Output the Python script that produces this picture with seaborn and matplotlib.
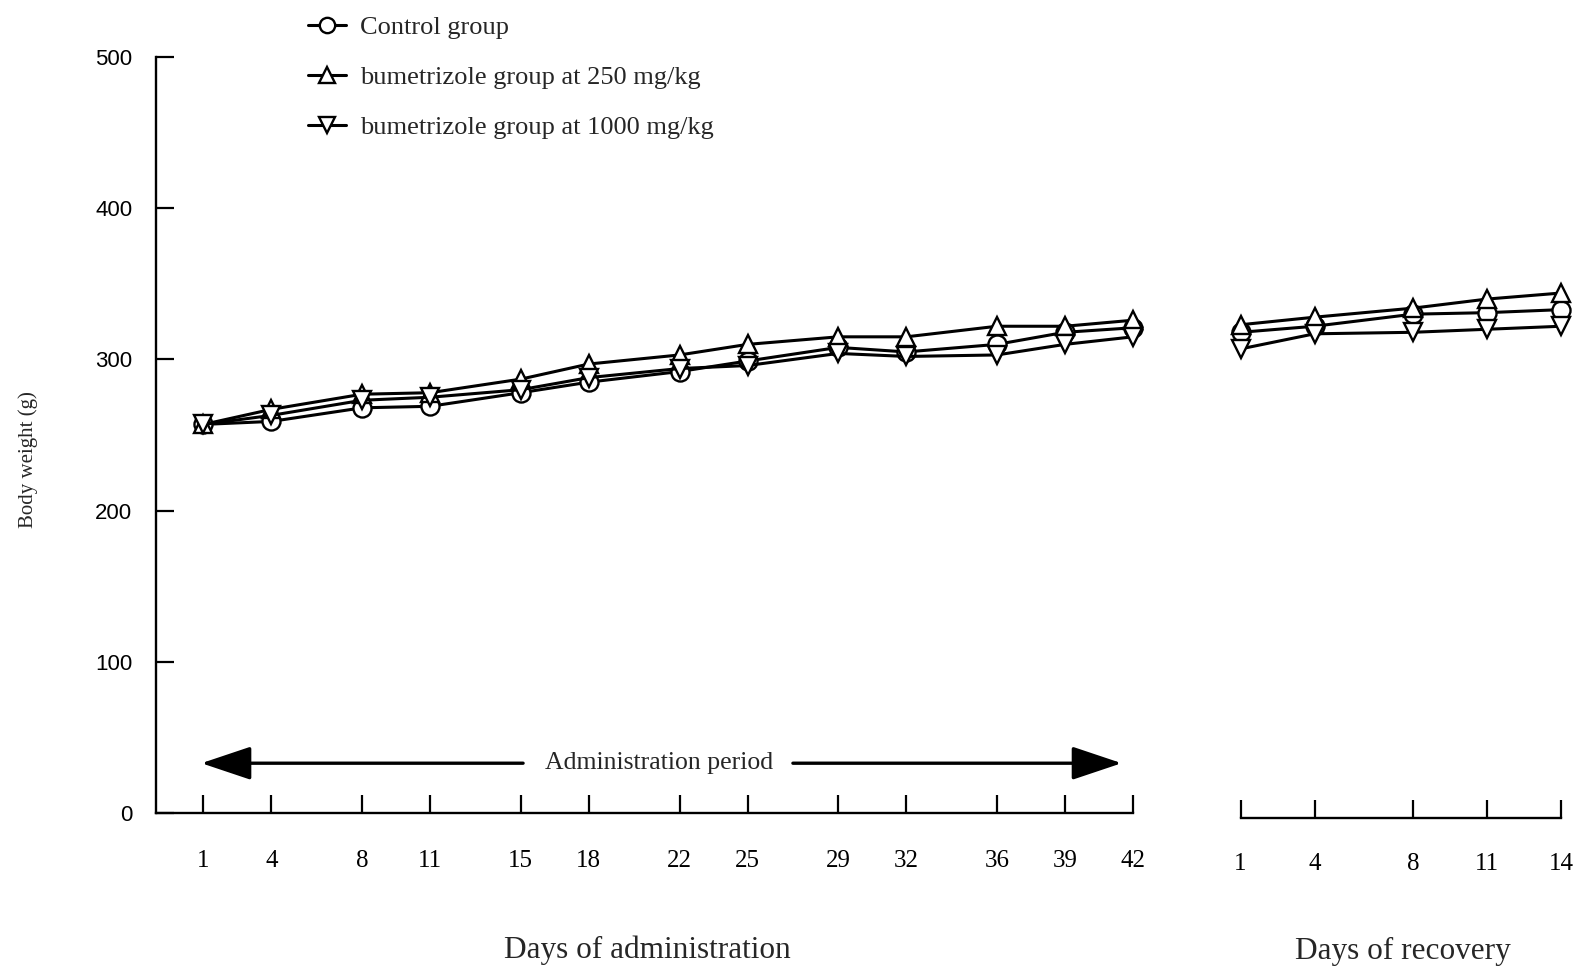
import pandas as pd
import matplotlib
matplotlib.use("Agg")
import matplotlib.pyplot as plt
import seaborn as sns

# ---------------------------
# Data
# ---------------------------

admin_days = [1, 4, 8, 11, 15, 18, 22, 25, 29, 32, 36, 39, 42]
recovery_days = [1, 4, 8, 11, 14]

groups = ["Control group",
          "bumetrizole group at 250 mg/kg",
          "bumetrizole group at 1000 mg/kg"]

control_admin = [257, 259, 268, 269, 278, 285, 292, 299, 308, 305, 310, 318, 321]
low_admin = [257, 267, 277, 278, 287, 297, 303, 310, 315, 315, 322, 322, 326]
high_admin = [257, 263, 273, 275, 280, 288, 294, 296, 304, 302, 303, 310, 315]

control_rec = [318, 322, 330, 331, 333]
low_rec = [323, 328, 334, 340, 344]
high_rec = [307, 317, 318, 320, 322]

y_ticks = [0, 100, 200, 300, 400, 500]

markers = {groups[0]: "o", groups[1]: "^", groups[2]: "v"}


def to_long(days, series):
    rows = []
    for name, vals in zip(groups, series):
        for d, v in zip(days, vals):
            rows.append({"day": d, "weight": v, "group": name})
    return pd.DataFrame(rows)


df_admin = to_long(admin_days, [control_admin, low_admin, high_admin])
df_rec = to_long(recovery_days, [control_rec, low_rec, high_rec])

# ---------------------------
# Figure
# ---------------------------

sns.set_theme(style="white")
plt.rcParams["font.family"] = ["Liberation Serif", "DejaVu Serif"]

W, H = 1579, 968
fig = plt.figure(figsize=(W / 100, H / 100), dpi=100)

bottom = 1 - 812.6 / H
height = (812.6 - 57.4) / H
ax1 = fig.add_axes([156 / W, bottom, (1133 - 156) / W, height])
ax2 = fig.add_axes([1240.6 / W, bottom, (1561 - 1240.6) / W, height])

line_kws = dict(color="black", linewidth=2.2, markersize=13,
                markerfacecolor="white", markeredgecolor="black",
                markeredgewidth=1.7, clip_on=False, dashes=False)

sns.lineplot(data=df_admin, x="day", y="weight", style="group",
             markers=markers, style_order=groups, ax=ax1, **line_kws)
sns.lineplot(data=df_rec, x="day", y="weight", style="group",
             markers=markers, style_order=groups, ax=ax2, legend=False,
             **line_kws)

# left panel axes
ax1.set_xlim(1 - 47.4 / 22.67, 42)
ax1.set_ylim(0, 500)
ax1.set_xticks(admin_days)
ax1.set_yticks(y_ticks)
ax1.set_xlabel("")
ax1.set_ylabel("")
for side in ["top", "right"]:
    ax1.spines[side].set_visible(False)
for side in ["left", "bottom"]:
    ax1.spines[side].set_linewidth(1.7)
    ax1.spines[side].set_color("black")
ax1.tick_params(axis="x", direction="in", length=13, width=1.6, pad=27,
                labelsize=18, colors="black", bottom=True)
ax1.tick_params(axis="y", direction="in", length=13, width=1.6, pad=17,
                labelsize=16, colors="black", left=True)
for lab in ax1.get_yticklabels():
    lab.set_family(["Liberation Sans", "DejaVu Sans"])

# right panel axes
ax2.set_xlim(1, 14)
ax2.set_ylim(0, 500)
ax2.set_xticks(recovery_days)
ax2.set_yticks([])
ax2.set_xlabel("")
ax2.set_ylabel("")
for side in ["top", "right", "left"]:
    ax2.spines[side].set_visible(False)
ax2.spines["bottom"].set_linewidth(1.7)
ax2.spines["bottom"].set_color("black")
ax2.spines["bottom"].set_position(("outward", 4))
ax2.tick_params(axis="x", direction="in", length=13, width=1.6, pad=25,
                labelsize=18, colors="black", bottom=True)

# administration period arrow
arrow_y = 32.7
ax1.text(21.1, arrow_y, "Administration period", ha="center", va="center",
         fontsize=18.5)
head = dict(arrowstyle="-|>,head_length=1.55,head_width=0.52",
            mutation_scale=20, lw=2.4, color="black", shrinkA=0, shrinkB=0)
ax1.annotate("", xy=(0.91, arrow_y), xytext=(15.1, arrow_y), arrowprops=head)
ax1.annotate("", xy=(41.5, arrow_y), xytext=(27.0, arrow_y), arrowprops=head)

# legend
handles, labels = ax1.get_legend_handles_labels()
ax1.legend(handles, labels, loc="upper left",
           bbox_to_anchor=(297 / W, 1 - 5 / H),
           bbox_transform=fig.transFigure, frameon=False, fontsize=19,
           handlelength=1.45, handletextpad=0.55, labelspacing=1.0,
           markerscale=0.85, borderaxespad=0)

# axis titles
fig.text(647 / W, 1 - 950 / H, "Days of administration", ha="center",
         va="center", fontsize=22.5)
fig.text(1403 / W, 1 - 951 / H, "Days of recovery", ha="center",
         va="center", fontsize=22.5)
fig.text(28 / W, 1 - 460 / H, "Body weight (g)", ha="center", va="center",
         rotation=90, fontsize=15)

fig.savefig("out.png", dpi=100)
